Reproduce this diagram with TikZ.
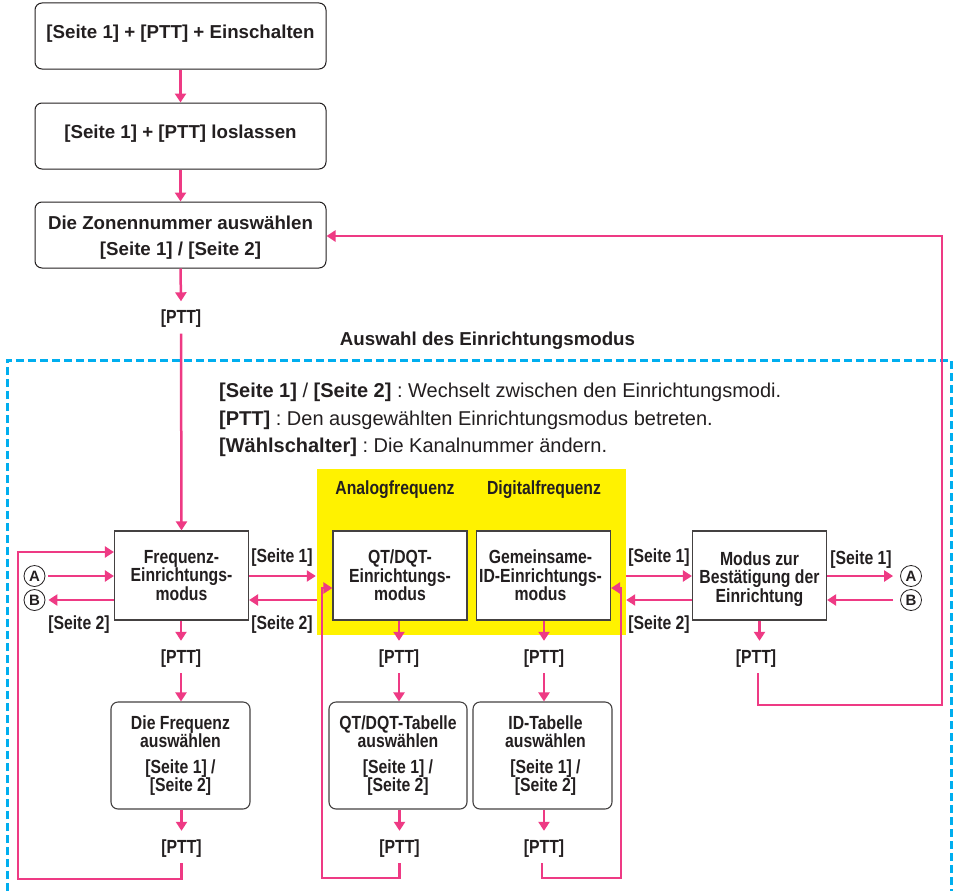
\documentclass[tikz,border=0pt]{standalone}
\usepackage{fontspec}
\setmainfont{Liberation Sans}
\newfontfamily\condf[FakeStretch=0.83]{Liberation Sans}
\usetikzlibrary{arrows.meta}
\definecolor{pinkl}{HTML}{EE3A84}
\definecolor{cyanl}{HTML}{00AEEF}
\definecolor{yellowf}{HTML}{FFF200}
\definecolor{inkc}{HTML}{231F20}
\frenchspacing
\tikzset{
 x=1pt,y=-1pt,
 every node/.style={text=inkc,inner sep=0pt},
 lbl/.style={font=\condf\fontsize{19}{18.5}\selectfont\bfseries,align=center},
 wide/.style={font=\fontsize{18.7}{26}\selectfont\bfseries,align=center},
 bodytxt/.style={anchor=west,font=\frenchspacing\fontsize{20}{20}\selectfont},
 startbox/.style={wide,draw=inkc,line width=1pt,rounded corners=7pt,minimum width=291pt,fill=white},
 modebox/.style={lbl,draw=inkc!85,line width=1.2pt,minimum width=134pt,minimum height=89pt,fill=white},
 tabbox/.style={lbl,draw=inkc!85,line width=1.1pt,rounded corners=7pt,minimum width=139pt,minimum height=107pt,fill=white},
 pttlbl/.style={font=\condf\fontsize{19}{18.5}\selectfont\bfseries,text height=12.5pt,text depth=0pt,minimum height=32pt,minimum width=44pt},
 circ/.style={circle,draw=inkc,line width=.8pt,minimum size=21pt,font=\fontsize{15}{15}\selectfont\bfseries},
 arr/.style={draw=pinkl,line width=2.5pt,-{Triangle[length=9pt,width=11pt]}},
 dashb/.style={draw=cyanl,line width=3pt,dash pattern=on 8pt off 4pt},
}
\begin{document}
\begin{tikzpicture}
\useasboundingbox (0,0) rectangle (957,891);
\fill[white] (0,0) rectangle (957,891);
\fill[yellowf] (317,469) rectangle (626,635);
\node[minimum width=309pt,minimum height=166pt] (y) at (471.5,552) {};
\draw[dashb] (7,891) -- (7,360) -- (951,360) -- (951,891);

\node[startbox,minimum height=66pt] (s1) at (180.5,36) {\raisebox{-3pt}[0pt][0pt]{[Seite 1] + [PTT] + Einschalten}};
\node[startbox,minimum height=66pt] (s2) at (180.5,136) {\raisebox{-2pt}[0pt][0pt]{[Seite 1] + [PTT] loslassen}};
\node[startbox,minimum height=66pt] (s3) at (180.5,235) {\rule{0pt}{19pt}Die Zonennummer auswählen\\{}[Seite 1] / [Seite 2]};
\node[pttlbl] (p0) at (181,317.5) {[PTT]};
\node[font=\fontsize{18.7}{20}\selectfont\bfseries] (title) at (487.5,341) {Auswahl des Einrichtungsmodus};

\node[bodytxt] (t1) at (219,392) {\textbf{[Seite 1]} / \textbf{[Seite 2]} : Wechselt zwischen den Einrichtungsmodi.};
\node[bodytxt] (t2) at (219,420) {\textbf{[PTT]} : Den ausgewählten Einrichtungsmodus betreten.};
\node[bodytxt] (t3) at (219,447) {\textbf{[Wählschalter]} : Die Kanalnummer ändern.};

\node[lbl] (an) at (395,490) {Analogfrequenz};
\node[lbl] (di) at (544,490) {Digitalfrequenz};

\node[modebox] (f) at (181.5,575.5) {Frequenz-\\Einrichtungs-\\modus};
\node[modebox] (q) at (400,575.5) {QT/DQT-\\Einrichtungs-\\modus};
\node[modebox] (g) at (543.5,575.5) {\hspace*{-6pt}Gemeinsame-\\\hspace*{-6pt}ID-Einrichtungs-\\\hspace*{-6pt}modus};
\node[modebox] (m) at (759.5,575.5) {\rule{0pt}{21pt}Modus zur\\Bestätigung der\\Einrichtung};

\node[tabbox] (ft) at (180.5,755.5) {Die Frequenz\\auswählen\\[7pt][Seite 1] /\\{}[Seite 2]};
\node[tabbox,minimum width=138pt] (qt) at (398,755.5) {QT/DQT-Tabelle\\auswählen\\[7pt][Seite 1] /\\{}[Seite 2]};
\node[tabbox,minimum width=139pt] (it) at (542.5,755.5) {\hspace*{6pt}ID-Tabelle\\\hspace*{6pt}auswählen\\[7pt]\hspace*{6pt}[Seite 1] /\\\hspace*{6pt}[Seite 2]};

\node[pttlbl] (pf1) at (181,657) {[PTT]};
\node[pttlbl] (pq1) at (399,657) {[PTT]};
\node[pttlbl] (pi1) at (544,657) {[PTT]};
\node[pttlbl] (pm1) at (756,657) {[PTT]};
\node[pttlbl] (pf2) at (181.5,847) {[PTT]};
\node[pttlbl] (pq2) at (399.5,847) {[PTT]};
\node[pttlbl] (pi2) at (544,847) {[PTT]};

\node[circ] (a1) at (34.5,576) {A};
\node[circ] (b1) at (34.5,600) {B};
\node[circ] (a2) at (911,576) {A};
\node[circ] (b2) at (911,600) {B};

\node[lbl] (l1) at (79,625) {[Seite 2]};
\node[lbl] (l2) at (282,558) {[Seite 1]};
\node[lbl] (l3) at (282,625) {[Seite 2]};
\node[lbl] (l4) at (659,558) {[Seite 1]};
\node[lbl] (l5) at (659,625) {[Seite 2]};
\node[lbl] (l6) at (861,560) {[Seite 1]};

% main column
\draw[arr] (s1.south) -- (s2.north);
\draw[arr] (s2.south) -- (s3.north);
\draw[arr] (s3.south) -- (p0.north);
\draw[arr] (p0.south) -- (f.north);

% down connectors
\foreach \u/\v/\w/\z in {f/pf1/ft/pf2,q/pq1/qt/pq2,g/pi1/it/pi2}{
  \draw[arr] (\u.south -| \v) -- (\v.north);
  \draw[arr] (\v.south) -- (\w.north -| \v);
  \draw[arr] (\w.south -| \z) -- (\z.north);
}
\draw[arr] (m.south) -- (m.south |- pm1.north);

% horizontal connectors
\draw[arr] (a1.east) ++(3,0) -- (f.west |- a1);
\draw[arr] (f.west |- b1) -- ([xshift=3pt]b1.east);
\draw[arr] (f.east |- a1) -- ([xshift=-1pt]y.west |- a1);
\draw[arr] (y.west |- b1) -- (f.east |- b1);
\draw[arr] (y.east |- a1) -- (m.west |- a1);
\draw[arr] (m.west |- b1) -- (y.east |- b1);
\draw[arr] (m.east |- a2) -- ([xshift=-7pt]a2.west);
\draw[arr] ([xshift=-7pt]b2.west) -- (m.east |- b2);

% return loops
\coordinate (fl) at (18,552);
\coordinate (qc) at (322,588);
\coordinate (gc) at (621,588);
\coordinate (ml) at (942,236);
\draw[arr] (pf2.south) -- (pf2.south |- 0,879) -- (18,879) -- (fl) -- (f.west |- fl);
\draw[arr] (pq2.south) -- (pq2.south |- 0,878) -- (322,878) -- (qc) -- (q.west |- qc);
\draw[arr] ([xshift=-2pt]pi2.south) -- (542,878) -- (621,878) -- (gc) -- (g.east |- gc);
\draw[arr] (pm1.south) ++(2,0) -- (758,705) -- (942,705) -- (ml) -- (s3.east |- ml);
\end{tikzpicture}
\end{document}
